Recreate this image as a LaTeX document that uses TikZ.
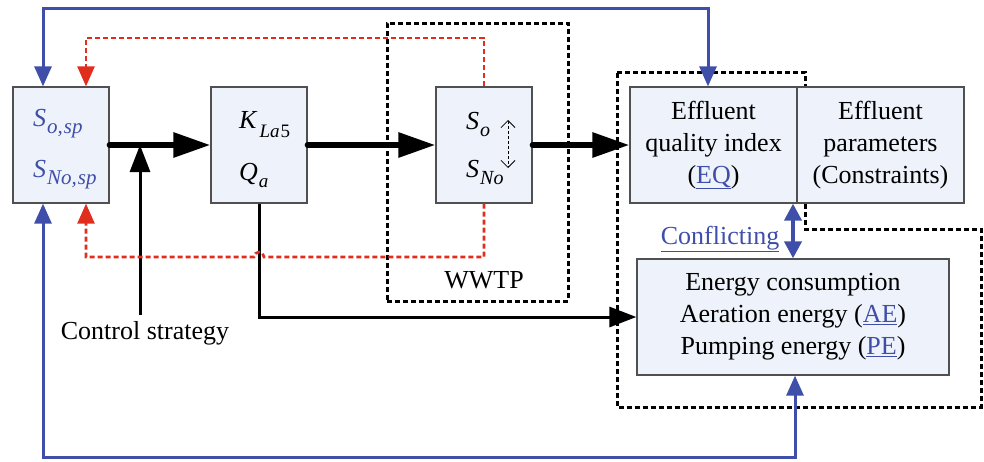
\documentclass[tikz,border=0pt]{standalone}
\usepackage{fontspec}
\setmainfont{Liberation Serif}
\usetikzlibrary{arrows.meta,calc}
\definecolor{boxfill}{RGB}{238,242,250}
\definecolor{boxdraw}{RGB}{80,80,80}
\definecolor{myblue}{RGB}{63,78,168}
\definecolor{myred}{RGB}{225,45,30}
\newcommand\sbs[2][21]{\kern1pt\raisebox{-7pt}{\fontsize{#1}{#1}\selectfont\itshape #2}}
\begin{document}
\begin{tikzpicture}[x=1pt,y=-1pt,font=\fontsize{26}{32}\selectfont,
  blk/.style={draw=boxdraw,line width=1.3pt,fill=boxfill,inner sep=0pt,minimum height=116pt},
  smallblk/.style={blk,minimum width=96pt},
  txt/.style={anchor=base west,inner sep=0pt},
  thickarrow/.style={line width=6pt,line cap=round,-{Triangle[length=37pt,width=24pt]}},
  blackarrow/.style={line width=3pt,-{Triangle[length=27pt,width=20pt]}},
  bluearrow/.style={draw=myblue,line width=3pt,{Triangle[length=20pt,width=17pt]}-{Triangle[length=20pt,width=17pt]}},
  redarrow/.style={draw=myred,line width=2.7pt,dash pattern=on 5pt off 3pt,-{Triangle[length=20pt,width=17pt]}},
  dashbox/.style={draw=black,line width=3pt,dash pattern=on 5pt off 3pt}]
\useasboundingbox (0,0) rectangle (984,461);
% helper levels
\coordinate (rt) at (0,38);
\coordinate (rb) at (0,257);
\coordinate (bt) at (0,8);
\coordinate (bb) at (0,457);
% dashed groups
\node[dashbox,minimum width=181pt,minimum height=278pt,inner sep=0pt] (wwtp) at (477.5,162) {};
\draw[dashbox] (617,72) -- (805,72) -- (805,229) -- (981,229) -- (981,407) -- (617,407) -- cycle;
% boxes
\node[smallblk] (A) at (61,145) {};
\node[smallblk] (B) at (259,145) {};
\node[smallblk] (C) at (484,145) {};
\node[blk,minimum width=167pt,align=center] (EQ) at (713.5,145) {Effluent\\quality index\\(\textcolor{myblue}{\underline{EQ}})};
\node[blk,minimum width=167pt,align=center] (P) at (880.5,145) {Effluent\\parameters\\(Constraints)};
\node[blk,minimum width=312pt,align=center] (E) at (793,317) {Energy consumption\\Aeration energy (\textcolor{myblue}{\underline{AE}})\\Pumping energy (\textcolor{myblue}{\underline{PE}})};
% box texts
\node[txt,text=myblue] (a1) at (33,126) {\textit{S}\sbs{o,\kern1pt sp}};
\node[txt,text=myblue] (a2) at (33,177) {\textit{S}\sbs{No,\kern1pt sp}};
\node[txt] (b1) at (239,128) {\textit{K}\kern2pt\raisebox{-9pt}{\fontsize{19}{19}\selectfont\textit{La}\kern1pt 5}};
\node[txt] (b2) at (239,180) {\textit{Q}\sbs[19]{a}};
\node[txt] (c1) at (466,129) {\textit{S}\sbs[20]{o}};
\node[txt] (c2) at (466,177) {\textit{S}\sbs[20]{No}};
\coordinate (d1) at (508,120);
\coordinate (d2) at (508,168);
\draw[line width=0.8pt,dash pattern=on 3pt off 2pt,{Straight Barb[length=7pt,width=14pt]}-{Straight Barb[length=7pt,width=14pt]}] (d1) -- (d2);
% labels
\node[anchor=base,inner sep=0pt] (wl) at (484,288) {WWTP};
\node[anchor=base,inner sep=0pt,text=myblue] (cf) at (720,244) {\underline{Conflicting}};
\node[anchor=base,inner sep=0pt] (cs) at (145,339) {Control strategy};
% main flow
\draw[thickarrow] (A.east) -- (B.west);
\draw[thickarrow] (B.east) -- (C.west);
\draw[thickarrow] (C.east) -- (EQ.west);
\coordinate (csb) at (140,315);
\coordinate (csj) at (140,145);
\draw[blackarrow] (csb) -- (csj);
\draw[blackarrow] (B.south) |- (E.west);
% red feedback
\draw[redarrow] (C.north) -- (C.north |- rt) -| ([xshift=25pt]A.north);
\draw[redarrow] (C.south) -- (C.south |- rb) -- (264,257) arc[start angle=0,end angle=-180,radius=5] -- ([xshift=25pt]A.south |- rb) -- ([xshift=25pt]A.south);
% blue loops
\draw[bluearrow] ([xshift=-18pt]A.north) -- ([xshift=-18pt]A.north |- bt) -| ([xshift=-5.5pt]EQ.north);
\draw[bluearrow] ([xshift=-18pt]A.south) -- ([xshift=-18pt]A.south |- bb) -| ([xshift=2pt]E.south);
\draw[draw=myblue,line width=4pt,{Triangle[length=17pt,width=17pt]}-{Triangle[length=17pt,width=17pt]}] (E.north |- EQ.south) -- (E.north);
\end{tikzpicture}
\end{document}
